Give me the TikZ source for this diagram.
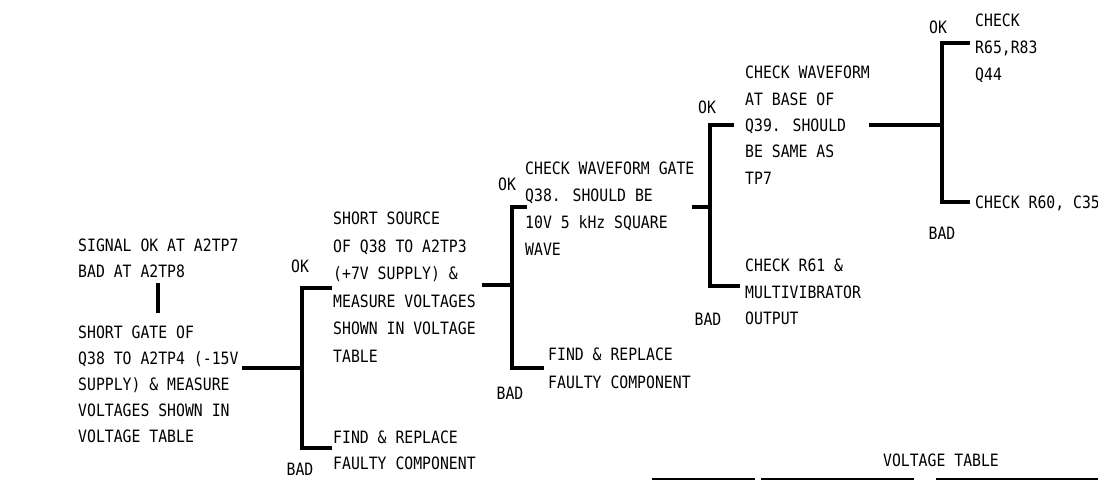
\documentclass[tikz,border=0pt]{standalone}
\usepackage{fontspec}
\newfontfamily\lettfont[FakeStretch=0.87]{DejaVu Sans Mono}
\begin{document}
\begin{tikzpicture}[x=1pt,y=-1pt,
  txt/.style={anchor=north west,inner sep=0,align=left,font=\lettfont\fontsize{17}{#1}\selectfont},
  txt/.default=26,
  lab/.style={inner sep=0,font=\lettfont\fontsize{17}{20}\selectfont},
  bar/.style={line width=4.5pt,line cap=rect,line join=miter}]
\useasboundingbox (0,0) rectangle (1098,481);
% text blocks
\node[txt=26] (sig) at (78,239) {SIGNAL OK AT A2TP7\\BAD AT A2TP8};
\node[txt=25.8] (s1) at (78,326) {SHORT GATE OF\\Q38 TO A2TP4 (-15V\\SUPPLY) \& MEASURE\\VOLTAGES SHOWN IN\\VOLTAGE TABLE};
\node[txt=27.5] (s2) at (333,212) {SHORT SOURCE\\OF Q38 TO A2TP3\\(+7V SUPPLY) \&\\MEASURE VOLTAGES\\SHOWN IN VOLTAGE\\TABLE};
\node[txt=26] (f1) at (333,431) {FIND \& REPLACE\\FAULTY COMPONENT};
\node[txt=27] (s3) at (525,162) {CHECK WAVEFORM GATE\\Q38. SHOULD BE\\10V 5 kHz SQUARE\\WAVE};
\node[txt=28] (f2) at (548,348) {FIND \& REPLACE\\FAULTY COMPONENT};
\node[txt=26.3] (s4) at (745,66) {CHECK WAVEFORM\\AT BASE OF\\Q39. SHOULD\\BE SAME AS\\TP7};
\node[txt=26.5] (f3) at (745,259) {CHECK R61 \&\\MULTIVIBRATOR\\OUTPUT};
\node[txt=27] (s5) at (975,14) {CHECK\\R65,R83\\Q44};
\node[txt] (f4) at (975,196) {CHECK R60, C35};
\node[lab] (vt) at (941,460) {VOLTAGE TABLE};
% OK / BAD labels
\node[lab] (ok1) at (300,266) {OK};
\node[lab] (bad1) at (300,469) {BAD};
\node[lab] (ok2) at (507,184) {OK};
\node[lab] (bad2) at (510,393) {BAD};
\node[lab] (ok3) at (707,107) {OK};
\node[lab] (bad3) at (708,319) {BAD};
\node[lab] (ok4) at (938,27) {OK};
\node[lab] (bad4) at (942,233) {BAD};
% connector coordinates
\coordinate (v1) at (158,285);
\coordinate (v2) at (158,311);
\coordinate (a1) at (244,368);
\coordinate (j1) at (302,368);
\coordinate (t1) at (330,288);
\coordinate (b1) at (330,448);
\coordinate (a2) at (484,285);
\coordinate (j2) at (512,285);
\coordinate (t2) at (525,207);
\coordinate (b2) at (542,368);
\coordinate (a3) at (694,207);
\coordinate (j3) at (710,207);
\coordinate (t3) at (732,125);
\coordinate (b3) at (738,286);
\coordinate (a4) at (871,125);
\coordinate (j4) at (942,125);
\coordinate (t4) at (968,43);
\coordinate (b4) at (968,202);
% connectors
\draw[bar] (v1) -- (v2);
\draw[bar] (a1) -- (j1);
\draw[bar] (t1) -- (t1 -| j1) -- (b1 -| j1) -- (b1);
\draw[bar] (a2) -- (j2);
\draw[bar] (t2) -- (t2 -| j2) -- (b2 -| j2) -- (b2);
\draw[bar] (a3) -- (j3);
\draw[bar] (t3) -- (t3 -| j3) -- (b3 -| j3) -- (b3);
\draw[bar] (a4) -- (j4);
\draw[bar] (t4) -- (t4 -| j4) -- (b4 -| j4) -- (b4);
% voltage table rule
\coordinate (r1) at (652,479);
\coordinate (r2) at (1098,479);
\draw[line width=2.5pt,dash pattern=on 103pt off 6pt on 153pt off 22pt on 200pt off 10pt] (r1) -- (r2);
\end{tikzpicture}
\end{document}
